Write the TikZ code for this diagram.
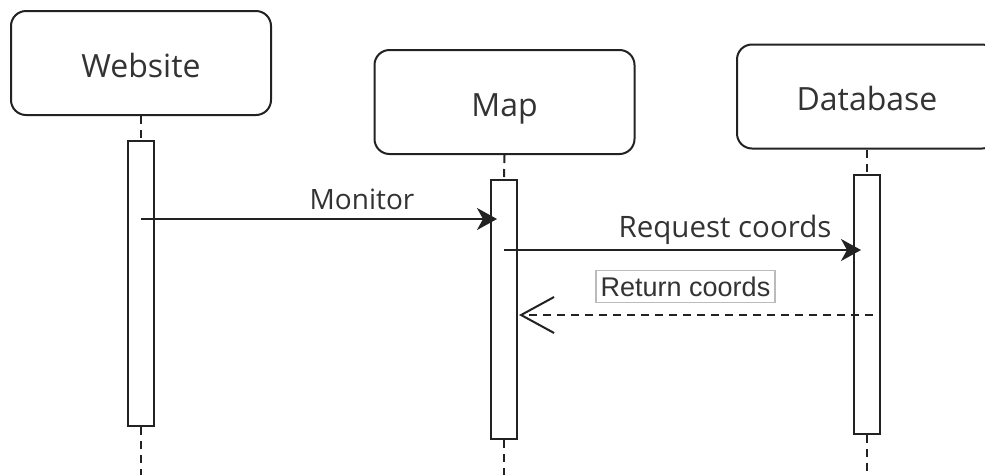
\documentclass[tikz,border=0pt]{standalone}
\usepackage{fontspec}
\setmainfont{Open Sans}
\newfontfamily\arialfont{Liberation Sans}
\usetikzlibrary{arrows.meta}
\definecolor{ink}{HTML}{222222}
\definecolor{txt}{HTML}{333333}
\definecolor{labelframe}{HTML}{BBBBBB}
\tikzset{
  actor/.style={draw=ink, line width=2pt, rounded corners=15pt, fill=white,
    minimum width=260pt, minimum height=104pt, inner sep=0pt, text=txt,
    text height=32pt, text depth=4pt,
    font=\fontsize{32}{38}\selectfont},
  activation/.style={draw=ink, line width=2pt, fill=white,
    minimum width=26pt, inner sep=0pt},
  lifeline/.style={draw=ink, line width=2pt, dash pattern=on 8pt off 6pt},
  callmsg/.style={draw=ink, line width=2pt,
    -{Stealth[length=20pt, width=22pt, inset=6pt]}},
  replymsg/.style={draw=ink, line width=2pt, dash pattern=on 8pt off 6pt,
    -{Straight Barb[length=33pt, width=36pt, line width=2pt]}},
  msglabel/.style={text=txt, inner sep=0pt},
}
\begin{document}
\begin{tikzpicture}[x=1pt, y=-1pt]
  \useasboundingbox (0,0) rectangle (985,475);
  \clip (0,0) rectangle (985,475);

  % participants
  \node[actor] (website) at (141,63) {Website};
  \node[actor] (map) at (504.5,102) {Map};
  \node[actor] (db) at (867,96.5) {Database};

  % activation bars
  \node[activation, minimum height=285pt] (actW) at (141,283.5) {};
  \node[activation, minimum height=259pt] (actM) at (504,309.5) {};
  \node[activation, minimum height=259pt] (actD) at (867,304.5) {};

  % lifelines
  \coordinate (endW) at (141,475);
  \coordinate (endM) at (504,475);
  \coordinate (endD) at (867,475);
  \draw[lifeline] (website.south) -- (actW.north);
  \draw[lifeline] (actW.south) -- (endW);
  \draw[lifeline] (map.south) -- (actM.north);
  \draw[lifeline] (actM.south) -- (endM);
  \draw[lifeline] (db.south) -- (actD.north);
  \draw[lifeline] (actD.south) -- (endD);

  % messages
  \coordinate (monFrom) at (141,219);
  \coordinate (monTo) at (497,219);
  \draw[callmsg] (monFrom) -- (monTo);
  \node[msglabel, font=\fontsize{28}{33}\selectfont] (monLbl) at (362,199) {Monitor};

  \coordinate (reqFrom) at (504,250);
  \coordinate (reqTo) at (861,250);
  \draw[callmsg] (reqFrom) -- (reqTo);
  \node[msglabel, font=\fontsize{29.5}{35}\selectfont] (reqLbl) at (725,230) {Request coords};

  \coordinate (retFrom) at (873,315);
  \coordinate (retTo) at (519,315);
  \draw[replymsg] (retFrom) -- (retTo);
  \node[draw=labelframe, line width=1.2pt, fill=white, text=txt,
    minimum width=179pt, minimum height=32pt, inner sep=0pt,
    font=\arialfont\fontsize{27}{32}\selectfont] (retLbl) at (685.5,286.5) {Return coords};
\end{tikzpicture}
\end{document}
